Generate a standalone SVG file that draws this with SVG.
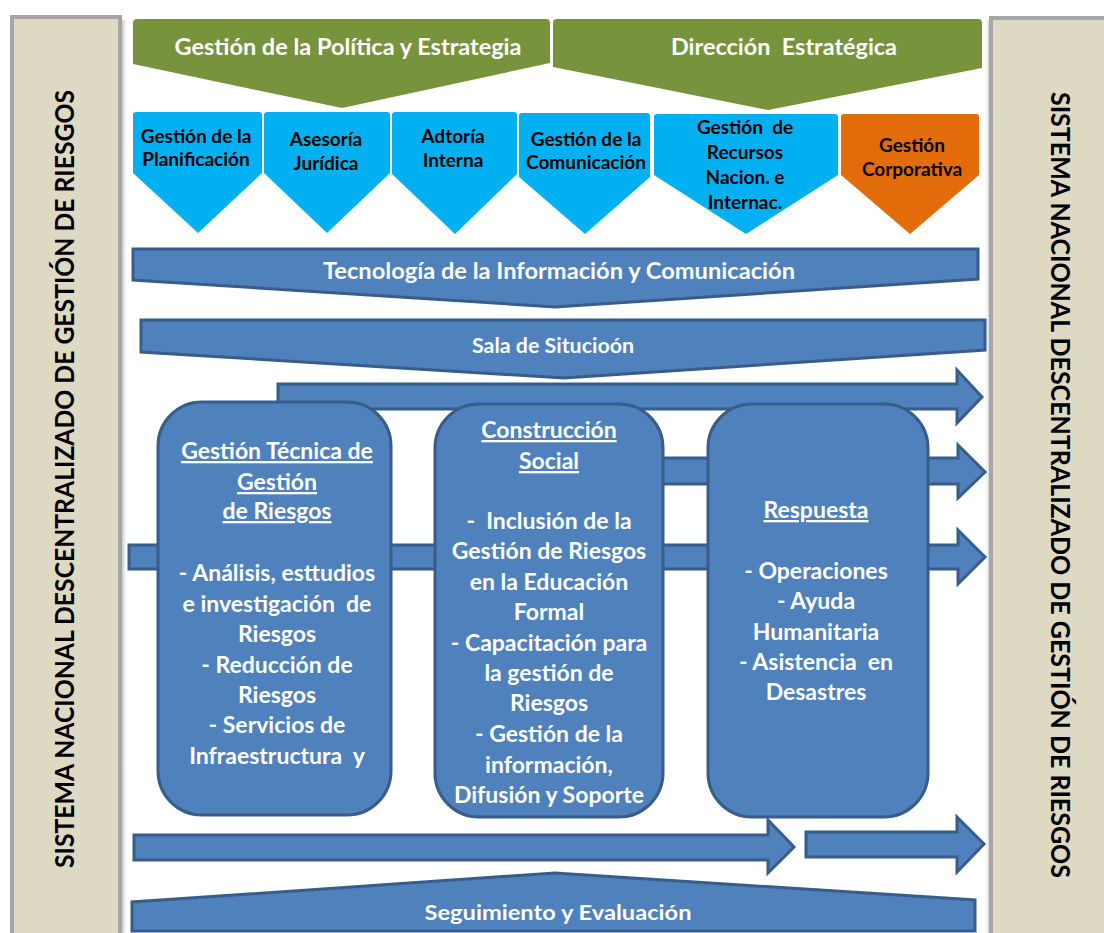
<svg xmlns="http://www.w3.org/2000/svg" width="1104" height="933" viewBox="0 0 1104 933">
<defs>
<linearGradient id="shR" x1="0" y1="0" x2="1" y2="0"><stop offset="0" stop-color="#b0b0b0"/><stop offset="1" stop-color="#ffffff" stop-opacity="0"/></linearGradient>
<linearGradient id="shL" x1="1" y1="0" x2="0" y2="0"><stop offset="0" stop-color="#b0b0b0"/><stop offset="1" stop-color="#ffffff" stop-opacity="0"/></linearGradient>
</defs>
<style>
.side{fill:#ddd9c3;stroke:#a6a6a6;stroke-width:4}
.sidet{font-family:Lato,"Open Sans",sans-serif;font-weight:700;font-size:26px;fill:#000;text-anchor:middle}
.green{fill:#77933c}
.cyan{fill:#00b0f0}
.orange{fill:#e36c0a}
.blue{fill:#4f81bd;stroke:#385d8a;stroke-width:3;stroke-linejoin:miter}
.wt{font-family:Lato,"Open Sans",sans-serif;font-weight:700;fill:#fff;text-anchor:middle}
.bt{font-family:Lato,"Open Sans",sans-serif;font-weight:700;fill:#000;text-anchor:middle;font-size:19px}
.bx{font-size:23px}
.u{text-decoration:underline}
</style>
<rect width="1104" height="933" fill="#fff"/>
<g id="side-left">
<rect x="121" y="20" width="7" height="920" fill="url(#shR)"/>
<rect class="side" x="12" y="17" width="108" height="930"/>
<text class="sidet" transform="translate(74,479) rotate(-90)" textLength="778" lengthAdjust="spacingAndGlyphs">SISTEMA NACIONAL DESCENTRALIZADO DE GESTIÓN DE RIESGOS</text>
</g>
<g id="side-right">
<rect x="984" y="20" width="7" height="920" fill="url(#shL)"/>
<rect class="side" x="991" y="18" width="130" height="930"/>
<text class="sidet" transform="translate(1051,485) rotate(90)" textLength="786" lengthAdjust="spacingAndGlyphs">SISTEMA NACIONAL DESCENTRALIZADO DE GESTIÓN DE RIESGOS</text>
</g>
<g id="banner-politica">
<path class="green" d="M133,23 Q133,19 137,19 L546,19 Q550,19 550,23 L550,63 L342,108 L133,64 Z"/>
<text class="wt" x="348" y="55" font-size="22" textLength="347" lengthAdjust="spacingAndGlyphs">Gestión de la Política y Estrategia</text>
</g>
<g id="banner-direccion">
<path class="green" d="M553,23 Q553,19 557,19 L978,19 Q982,19 982,23 L982,68 L768,110 L553,67 Z"/>
<text class="wt" x="784" y="55" font-size="22" xml:space="preserve" textLength="226" lengthAdjust="spacingAndGlyphs">Dirección  Estratégica</text>
</g>
<g id="p-planificacion">
<path class="cyan" d="M133,115 Q133,112 136,112 L259,112 Q262,112 262,115 L262,173 L198,233 L133,173 Z"/>
<text class="bt" x="196" y="143">Gestión de la</text>
<text class="bt" x="196" y="166">Planificación</text>
</g>
<g id="p-asesoria">
<path class="cyan" d="M264,115 Q264,112 267,112 L387,112 Q390,112 390,115 L390,173 L327,233 L264,173 Z"/>
<text class="bt" x="326" y="146">Asesoría</text>
<text class="bt" x="326" y="170">Jurídica</text>
</g>
<g id="p-auditoria">
<path class="cyan" d="M392,115 Q392,112 395,112 L514,112 Q517,112 517,115 L517,174 L455,234 L392,174 Z"/>
<text class="bt" x="453" y="143">Adtoría</text>
<text class="bt" x="453" y="167">Interna</text>
</g>
<g id="p-comunicacion">
<path class="cyan" d="M519,116 Q519,113 522,113 L647,113 Q650,113 650,116 L650,177 L585,234 L519,177 Z"/>
<text class="bt" x="586" y="146">Gestión de la</text>
<text class="bt" x="586" y="169">Comunicación</text>
</g>
<g id="p-recursos">
<path class="cyan" d="M654,117 Q654,114 657,114 L835,114 Q838,114 838,117 L838,175 L746,234 L654,175 Z"/>
<text class="bt" x="745" y="134" xml:space="preserve">Gestión  de</text>
<text class="bt" x="745" y="159">Recursos</text>
<text class="bt" x="745" y="184">Nacion. e</text>
<text class="bt" x="745" y="209">Internac.</text>
</g>
<g id="p-corporativa">
<path class="orange" d="M841,117 Q841,114 844,114 L976,114 Q979,114 979,117 L979,175 L910,234 L841,175 Z"/>
<text class="bt" x="912" y="152">Gestión</text>
<text class="bt" x="912" y="176">Corporativa</text>
</g>
<g id="bar-tecnologia">
<path class="blue" d="M133,249 L978,249 L978,279 L555,307 L133,280 Z"/>
<text class="wt" x="559" y="279" font-size="22" textLength="472" lengthAdjust="spacingAndGlyphs">Tecnología de la Información y Comunicación</text>
</g>
<g id="bar-sala">
<path class="blue" d="M141,320 L985,320 L985,350 L564,378 L141,352 Z"/>
<text class="wt" x="553" y="353" font-size="20" textLength="162" lengthAdjust="spacingAndGlyphs">Sala de Situcioón</text>
</g>
<g id="connectors">
<path class="blue" d="M278,384 L957,384 L957,370 L982,397 L957,423 L957,409 L278,409 Z"/>
<path class="blue" d="M600,458 L958,458 L958,445 L985,472 L958,498 L958,484 L600,484 Z"/>
<path class="blue" d="M129,545 L958,545 L958,530 L985,557 L958,584 L958,569 L129,569 Z"/>
<path class="blue" d="M134,835 L768,835 L768,820 L794,847 L768,873 L768,860 L134,860 Z"/>
<path class="blue" d="M806,832 L957,832 L957,817 L984,844 L957,872 L957,857 L806,857 Z"/>
</g>
<g id="box-tecnica">
<rect class="blue" x="158" y="402" width="233" height="413" rx="44" ry="44"/>
<text class="wt bx" x="277" xml:space="preserve"><tspan class="u" x="277" y="459">Gestión Técnica de</tspan><tspan class="u" x="277" y="490">Gestión</tspan><tspan class="u" x="277" y="519">de Riesgos</tspan><tspan x="277" y="581">- Análisis, esttudios</tspan><tspan x="277" y="612">e investigación  de</tspan><tspan x="277" y="642">Riesgos</tspan><tspan x="277" y="673">- Reducción de</tspan><tspan x="277" y="703">Riesgos</tspan><tspan x="277" y="733">- Servicios de</tspan><tspan x="277" y="764">Infraestructura  y</tspan></text>
</g>
<g id="box-construccion">
<rect class="blue" x="435" y="404" width="228" height="413" rx="44" ry="44"/>
<text class="wt bx" x="549" xml:space="preserve"><tspan class="u" x="549" y="438">Construcción</tspan><tspan class="u" x="549" y="469">Social</tspan><tspan x="549" y="529">-  Inclusión de la</tspan><tspan x="549" y="559">Gestión de Riesgos</tspan><tspan x="549" y="590">en la Educación</tspan><tspan x="549" y="620">Formal</tspan><tspan x="549" y="651">- Capacitación para</tspan><tspan x="549" y="681">la gestión de</tspan><tspan x="549" y="711">Riesgos</tspan><tspan x="549" y="742">- Gestión de la</tspan><tspan x="549" y="773">información,</tspan><tspan x="549" y="803">Difusión y Soporte</tspan></text>
</g>
<g id="box-respuesta">
<rect class="blue" x="708" y="404" width="220" height="413" rx="44" ry="44"/>
<text class="wt bx" x="816" xml:space="preserve"><tspan class="u" x="816" y="518">Respuesta</tspan><tspan x="816" y="579">- Operaciones</tspan><tspan x="816" y="609">- Ayuda</tspan><tspan x="816" y="640">Humanitaria</tspan><tspan x="816" y="670">- Asistencia  en</tspan><tspan x="816" y="700">Desastres</tspan></text>
</g>
<g id="bar-seguimiento">
<path class="blue" d="M132,931 L132,902 L555,873 L975,900 L975,931 Z"/>
<text class="wt" x="558" y="920" font-size="21" textLength="267" lengthAdjust="spacingAndGlyphs">Seguimiento y Evaluación</text>
</g>
</svg>
